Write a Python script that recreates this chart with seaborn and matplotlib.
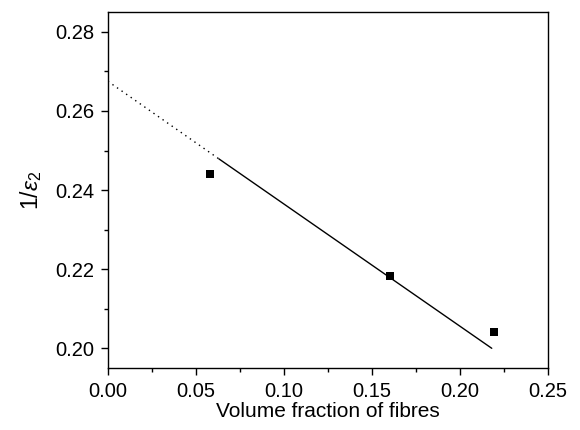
import matplotlib
matplotlib.use("Agg")
import matplotlib.pyplot as plt
import seaborn as sns
import pandas as pd
from matplotlib.ticker import MultipleLocator

# Data
vf_points = [0.058, 0.160, 0.219]
inv_eps_points = [0.2440, 0.2183, 0.2041]

extrap_x = [0.0, 0.063]
extrap_y = [0.2675, 0.2479]
fit_x = [0.063, 0.218]
fit_y = [0.2479, 0.2000]

x_ticks = [0.00, 0.05, 0.10, 0.15, 0.20, 0.25]
y_ticks = [0.20, 0.22, 0.24, 0.26, 0.28]

sns.set_theme(style="ticks")
plt.rcParams['font.family'] = ['Liberation Sans', 'DejaVu Sans']
plt.rcParams['mathtext.fontset'] = 'custom'
plt.rcParams['mathtext.it'] = 'Liberation Sans:italic'
plt.rcParams['mathtext.rm'] = 'Liberation Sans'

fig = plt.figure(figsize=(5.8, 4.3), dpi=100)
ax = fig.add_axes([0.186, 0.144, 0.759, 0.828])

pts = pd.DataFrame({"x": vf_points, "y": inv_eps_points})
sns.lineplot(x=extrap_x, y=extrap_y, ax=ax, color="black", lw=1.0,
             linestyle=(0, (1, 3)))
sns.lineplot(x=fit_x, y=fit_y, ax=ax, color="black", lw=1.0)
sns.scatterplot(data=pts, x="x", y="y", ax=ax, marker="s", s=40,
                color="black", edgecolor="black", linewidth=0)

ax.set_xlim(0.0, 0.25)
ax.set_ylim(0.195, 0.285)
ax.set_xticks(x_ticks)
ax.set_xticklabels([f"{v:.2f}" for v in x_ticks])
ax.set_yticks(y_ticks)
ax.set_yticklabels([f"{v:.2f}" for v in y_ticks])
ax.xaxis.set_minor_locator(MultipleLocator(0.025))
ax.yaxis.set_minor_locator(MultipleLocator(0.01))

for s in ax.spines.values():
    s.set_color("black")
    s.set_linewidth(1.0)
    s.set_visible(True)

ax.tick_params(which="major", direction="out", length=5, width=1.0,
               colors="black", labelsize=14.5, pad=5)
ax.tick_params(which="minor", direction="out", length=3, width=1.0,
               colors="black")
ax.tick_params(axis="x", which="both", top=False)
ax.tick_params(axis="y", which="both", right=False)

ax.set_xlabel("Volume fraction of fibres", fontsize=15, color="black", labelpad=1)
ax.set_ylabel(r"1/$\varepsilon_2$", fontsize=16.5, color="black", labelpad=8)

fig.savefig("out.png", dpi=100)
